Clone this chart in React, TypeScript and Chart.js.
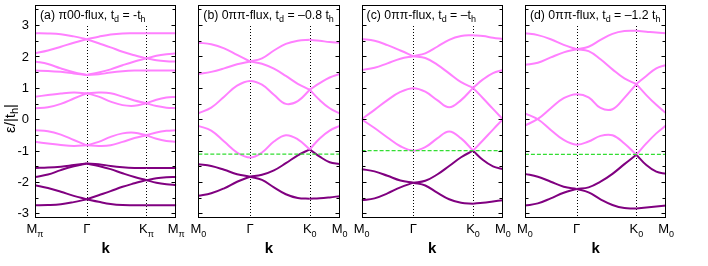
import React, { useEffect, useRef } from 'react';
import { Chart, registerables } from 'chart.js';

Chart.register(...registerables);

// ---------- data ----------
// k-path positions (M -> Γ -> K -> M), path length units
const K_POS = [0, 0.2165, 0.433, 0.6495, 0.866, 1.066, 1.266, 1.466, 1.666, 1.866, 2.033, 2.2, 2.366];
const X_TICK_POS = [0, 0.866, 1.866, 2.366];
const X_LABELS_A = [['M', 'π'], ['Γ', ''], ['K', 'π'], ['M', 'π']];
const X_LABELS_0 = [['M', '0'], ['Γ', ''], ['K', '0'], ['M', '0']];
const Y_TICKS = [-3, -2, -1, 0, 1, 2, 3];
const Y_MINOR = [-2.5, -1.5, -0.5, 0.5, 1.5, 2.5, 3.5];
const Y_TICK_LABELS = ['-3', '-2', '-1', '0', '1', '2', '3'];

// (a) π00-flux, td = -th
const A12 = [2.74, 2.735, 2.71, 2.64, 2.55, 2.63, 2.70, 2.735, 2.74, 2.74, 2.74, 2.74, 2.74];
const A11 = [2.10, 2.19, 2.31, 2.44, 2.55, 2.42, 2.29, 2.15, 2.04, 1.94, 2.02, 2.07, 2.10];
const A10 = [1.84, 1.76, 1.62, 1.50, 1.41, 1.49, 1.59, 1.72, 1.84, 1.94, 1.88, 1.85, 1.84];
const A9 = [1.55, 1.54, 1.51, 1.46, 1.41, 1.43, 1.49, 1.53, 1.55, 1.55, 1.55, 1.55, 1.55];
const A8 = [0.72, 0.77, 0.82, 0.85, 0.83, 0.85, 0.83, 0.72, 0.60, 0.51, 0.62, 0.69, 0.72];
const A7 = [0.35, 0.38, 0.49, 0.66, 0.83, 0.72, 0.56, 0.45, 0.43, 0.51, 0.42, 0.37, 0.35];
const A6 = [-0.35, -0.38, -0.49, -0.66, -0.83, -0.72, -0.56, -0.45, -0.43, -0.51, -0.42, -0.37, -0.35];
const A5 = [-0.72, -0.77, -0.82, -0.85, -0.83, -0.85, -0.83, -0.72, -0.60, -0.51, -0.62, -0.69, -0.72];
const A4 = [-1.55, -1.54, -1.51, -1.46, -1.41, -1.43, -1.49, -1.53, -1.55, -1.55, -1.55, -1.55, -1.55];
const A3 = [-1.84, -1.76, -1.62, -1.50, -1.41, -1.49, -1.59, -1.72, -1.84, -1.94, -1.88, -1.85, -1.84];
const A2 = [-2.10, -2.19, -2.31, -2.44, -2.55, -2.42, -2.29, -2.15, -2.04, -1.94, -2.02, -2.07, -2.10];
const A1 = [-2.74, -2.735, -2.71, -2.64, -2.55, -2.63, -2.70, -2.735, -2.74, -2.74, -2.74, -2.74, -2.74];

// (b) 0ππ-flux, td = -0.8 th
const B6 = [2.44, 2.39, 2.26, 2.05, 1.84, 1.94, 2.19, 2.40, 2.50, 2.53, 2.50, 2.46, 2.44];
const B5 = [1.44, 1.51, 1.62, 1.75, 1.84, 1.77, 1.61, 1.38, 1.13, 0.94, 1.15, 1.33, 1.44];
const B4 = [0.19, 0.37, 0.72, 1.07, 1.22, 1.10, 0.78, 0.49, 0.58, 0.94, 0.61, 0.35, 0.19];
const B3 = [-0.21, -0.36, -0.71, -1.06, -1.22, -1.06, -0.71, -0.51, -0.64, -0.96, -0.61, -0.36, -0.21];
const B2 = [-1.43, -1.49, -1.61, -1.75, -1.83, -1.77, -1.63, -1.40, -1.15, -0.96, -1.19, -1.37, -1.43];
const B1 = [-2.44, -2.36, -2.20, -1.99, -1.83, -1.93, -2.17, -2.39, -2.51, -2.53, -2.52, -2.49, -2.45];
const EF_B = -1.11;

// (c) 0ππ-flux, td = -th
const C6 = [2.56, 2.50, 2.36, 2.19, 2.01, 2.10, 2.31, 2.53, 2.65, 2.68, 2.65, 2.60, 2.56];
const C5 = [1.57, 1.64, 1.78, 1.93, 2.01, 1.95, 1.74, 1.46, 1.18, 1.00, 1.27, 1.47, 1.57];
const C4 = [0.00, 0.30, 0.61, 0.87, 0.99, 0.88, 0.61, 0.38, 0.61, 1.00, 0.67, 0.33, 0.00];
const C3 = [0.00, -0.28, -0.58, -0.86, -1.00, -0.89, -0.61, -0.39, -0.61, -1.00, -0.67, -0.33, 0.00];
const C2 = [-1.59, -1.66, -1.80, -1.95, -2.02, -1.96, -1.76, -1.49, -1.21, -1.00, -1.30, -1.50, -1.59];
const C1 = [-2.58, -2.52, -2.36, -2.17, -2.02, -2.11, -2.34, -2.55, -2.66, -2.69, -2.66, -2.62, -2.58];
const EF_C = -1.0;

// (d) 0ππ-flux, td = -1.2 th
const D6 = [2.74, 2.68, 2.55, 2.37, 2.23, 2.31, 2.53, 2.72, 2.81, 2.82, 2.79, 2.76, 2.74];
const D5 = [1.73, 1.80, 1.97, 2.13, 2.23, 2.17, 1.91, 1.59, 1.30, 1.12, 1.38, 1.62, 1.73];
const D4 = [-0.20, 0.01, 0.35, 0.67, 0.80, 0.70, 0.36, 0.32, 0.68, 1.12, 0.77, 0.46, 0.19];
const D3 = [0.19, 0.00, -0.34, -0.66, -0.81, -0.71, -0.53, -0.51, -0.77, -1.13, -0.77, -0.45, -0.19];
const D2 = [-1.74, -1.83, -1.99, -2.15, -2.22, -2.17, -1.99, -1.74, -1.43, -1.13, -1.46, -1.67, -1.74];
const D1 = [-2.75, -2.68, -2.52, -2.34, -2.22, -2.33, -2.55, -2.73, -2.83, -2.84, -2.81, -2.78, -2.75];
const EF_D = -1.12;

// ---------- layout / style ----------
const W = 708;
const H = 266;
const FONT = '"Liberation Sans", Arial, Helvetica, sans-serif';
const PINK = '#ff80ff';
const PURPLE = '#800080';
const GREEN = '#33dd33';
const PANEL_LEFTS = [35, 198.3, 361.6, 524.9];
const PANEL_W = 141.3;
const TOP = 5;
const BOTTOM = 217.5;
const Y_MIN = -3.13;
const Y_MAX = 3.64;
const X_MAX = 2.366;
const TITLE_SIZE = 12.3;

type Seg = { t: string; sub?: boolean };

const PANELS = [
  {
    title: [{ t: '(a) π00-flux, t' }, { t: 'd', sub: true }, { t: ' = -t' }, { t: 'h', sub: true }],
    pink: [A12, A11, A10, A9, A8, A7, A6, A5],
    purple: [A4, A3, A2, A1],
    smooth: [] as number[][],
    ef: null as number | null,
    xl: X_LABELS_A,
    yLabels: true,
  },
  {
    title: [{ t: '(b) 0ππ-flux, t' }, { t: 'd', sub: true }, { t: ' = –0.8 t' }, { t: 'h', sub: true }],
    pink: [B6, B5, B4, B3],
    purple: [B2, B1],
    smooth: [B4, B3],
    ef: EF_B,
    xl: X_LABELS_0,
    yLabels: false,
  },
  {
    title: [{ t: '(c) 0ππ-flux, t' }, { t: 'd', sub: true }, { t: ' = –t' }, { t: 'h', sub: true }],
    pink: [C6, C5, C4, C3],
    purple: [C2, C1],
    smooth: [C4, C3],
    ef: EF_C,
    xl: X_LABELS_0,
    yLabels: false,
  },
  {
    title: [{ t: '(d) 0ππ-flux, t' }, { t: 'd', sub: true }, { t: ' = –1.2 t' }, { t: 'h', sub: true }],
    pink: [D6, D5, D4, D3],
    purple: [D2, D1],
    smooth: [D4, D3],
    ef: EF_D,
    xl: X_LABELS_0,
    yLabels: false,
  },
];

function fonts(size: number, bold: boolean) {
  return {
    main: `${bold ? 'bold ' : ''}${size}px ${FONT}`,
    sub: `${Math.max(9, Math.round(size * 0.7))}px ${FONT}`,
  };
}

function richWidth(ctx: CanvasRenderingContext2D, segs: Seg[], size: number, bold = false) {
  const f = fonts(size, bold);
  let w = 0;
  for (const s of segs) {
    ctx.font = s.sub ? f.sub : f.main;
    w += ctx.measureText(s.t).width;
  }
  return w;
}

function drawRich(ctx: CanvasRenderingContext2D, segs: Seg[], x: number, y: number, size: number, align: 'left' | 'center', bold = false) {
  const f = fonts(size, bold);
  const w = richWidth(ctx, segs, size, bold);
  let cx = align === 'center' ? x - w / 2 : x;
  ctx.textAlign = 'left';
  for (const s of segs) {
    ctx.font = s.sub ? f.sub : f.main;
    ctx.fillText(s.t, cx, s.sub ? y + size * 0.27 : y);
    cx += ctx.measureText(s.t).width;
  }
  return w;
}

function bandDatasets(values: number[], color: string, smooth: boolean) {
  const breaks = smooth ? [[0, 9], [9, 12]] : [[0, 4], [4, 9], [9, 12]];
  return breaks.map(([a, b]) => ({
    data: K_POS.slice(a, b + 1).map((x, i) => ({ x, y: values[a + i] })),
    borderColor: color,
    borderWidth: 2,
    showLine: true,
    pointRadius: 0,
    tension: 0.4,
    fill: false,
  }));
}

function Panel({ idx }: { idx: number }) {
  const ref = useRef<HTMLCanvasElement>(null);
  useEffect(() => {
    const p = PANELS[idx];
    const L = PANEL_LEFTS[idx];
    const R = L + PANEL_W;
    const datasets: any[] = [];
    if (p.ef !== null) {
      datasets.push({
        data: [{ x: 0, y: p.ef }, { x: X_MAX, y: p.ef }],
        borderColor: GREEN,
        borderWidth: 1.2,
        borderDash: [4, 2],
        showLine: true,
        pointRadius: 0,
        fill: false,
      });
    }
    for (const b of p.pink) datasets.push(...bandDatasets(b, PINK, p.smooth.includes(b)));
    for (const b of p.purple) datasets.push(...bandDatasets(b, PURPLE, p.smooth.includes(b)));

    const deco = {
      id: 'deco' + idx,
      beforeDatasetsDraw(chart: any) {
        const ctx = chart.ctx as CanvasRenderingContext2D;
        const xs = chart.scales.x;
        const ca = chart.chartArea;
        ctx.save();
        ctx.strokeStyle = '#000';
        ctx.lineWidth = 1;
        ctx.setLineDash([1, 2]);
        for (const v of [X_TICK_POS[1], X_TICK_POS[2]]) {
          const px = Math.round(xs.getPixelForValue(v)) + 0.5;
          ctx.beginPath();
          ctx.moveTo(px, ca.top);
          ctx.lineTo(px, ca.bottom);
          ctx.stroke();
        }
        ctx.restore();
      },
      afterDraw(chart: any) {
        const ctx = chart.ctx as CanvasRenderingContext2D;
        const xs = chart.scales.x;
        const ys = chart.scales.y;
        const ca = chart.chartArea;
        ctx.save();
        ctx.textBaseline = 'alphabetic';
        const tw = richWidth(ctx, p.title as Seg[], TITLE_SIZE);
        ctx.fillStyle = '#fff';
        ctx.fillRect(ca.left + 1, ca.top + 1, tw + 7, 18);
        ctx.fillStyle = '#000';
        drawRich(ctx, p.title as Seg[], ca.left + 5, 18.5, TITLE_SIZE, 'left');
        // frame
        ctx.strokeStyle = '#000';
        ctx.lineWidth = 1;
        const l = Math.round(ca.left) + 0.5;
        const r = Math.round(ca.right) - 0.5;
        const t = Math.round(ca.top) + 0.5;
        const b = Math.round(ca.bottom) - 0.5;
        ctx.strokeRect(l, t, r - l, b - t);
        // y ticks (inward, both sides)
        ctx.beginPath();
        for (const v of Y_TICKS) {
          const py = Math.round(ys.getPixelForValue(v)) + 0.5;
          ctx.moveTo(l, py); ctx.lineTo(l + 4, py);
          ctx.moveTo(r, py); ctx.lineTo(r - 4, py);
        }
        for (const v of Y_MINOR) {
          if (v > Y_MAX) continue;
          const py = Math.round(ys.getPixelForValue(v)) + 0.5;
          ctx.moveTo(l, py); ctx.lineTo(l + 3, py);
          ctx.moveTo(r, py); ctx.lineTo(r - 3, py);
        }
        ctx.stroke();
        // x labels
        ctx.fillStyle = '#000';
        X_TICK_POS.forEach((v, i) => {
          const [m, s] = p.xl[i];
          const segs: Seg[] = s ? [{ t: m }, { t: s, sub: true }] : [{ t: m }];
          drawRich(ctx, segs, xs.getPixelForValue(v), 233, 13, 'center');
        });
        drawRich(ctx, [{ t: 'k' }], (ca.left + ca.right) / 2, 252.5, 15, 'center', true);
        if (p.yLabels) {
          ctx.font = `13px ${FONT}`;
          ctx.textAlign = 'right';
          ctx.textBaseline = 'middle';
          Y_TICKS.forEach((v, i) => {
            ctx.fillText(Y_TICK_LABELS[i], ca.left - 6, ys.getPixelForValue(v) + 0.5);
          });
          ctx.translate(11, 118.5);
          ctx.rotate(-Math.PI / 2);
          ctx.textBaseline = 'middle';
          drawRich(ctx, [{ t: 'ε/|t' }, { t: 'h', sub: true }, { t: '|' }], 0, 0, 15, 'center');
        }
        ctx.restore();
      },
    };

    const chart = new Chart(ref.current as HTMLCanvasElement, {
      type: 'scatter',
      data: { datasets },
      options: {
        animation: false,
        responsive: false,
        devicePixelRatio: 1,
        events: [],
        layout: { padding: { left: L, right: W - R, top: TOP, bottom: H - BOTTOM } },
        scales: {
          x: { type: 'linear', min: 0, max: X_MAX, display: false },
          y: { type: 'linear', min: Y_MIN, max: Y_MAX, display: false },
        },
        plugins: { legend: { display: false }, tooltip: { enabled: false } },
      } as any,
      plugins: [deco],
    });
    return () => chart.destroy();
  }, [idx]);
  return <canvas ref={ref} width={W} height={H} style={{ position: 'absolute', left: 0, top: 0, width: W, height: H }} />;
}

export default function App() {
  return (
    <div style={{ position: 'absolute', left: 0, top: 0, width: W, height: H, background: '#fff', overflow: 'hidden' }}>
      {PANELS.map((_, i) => (
        <Panel key={i} idx={i} />
      ))}
    </div>
  );
}
